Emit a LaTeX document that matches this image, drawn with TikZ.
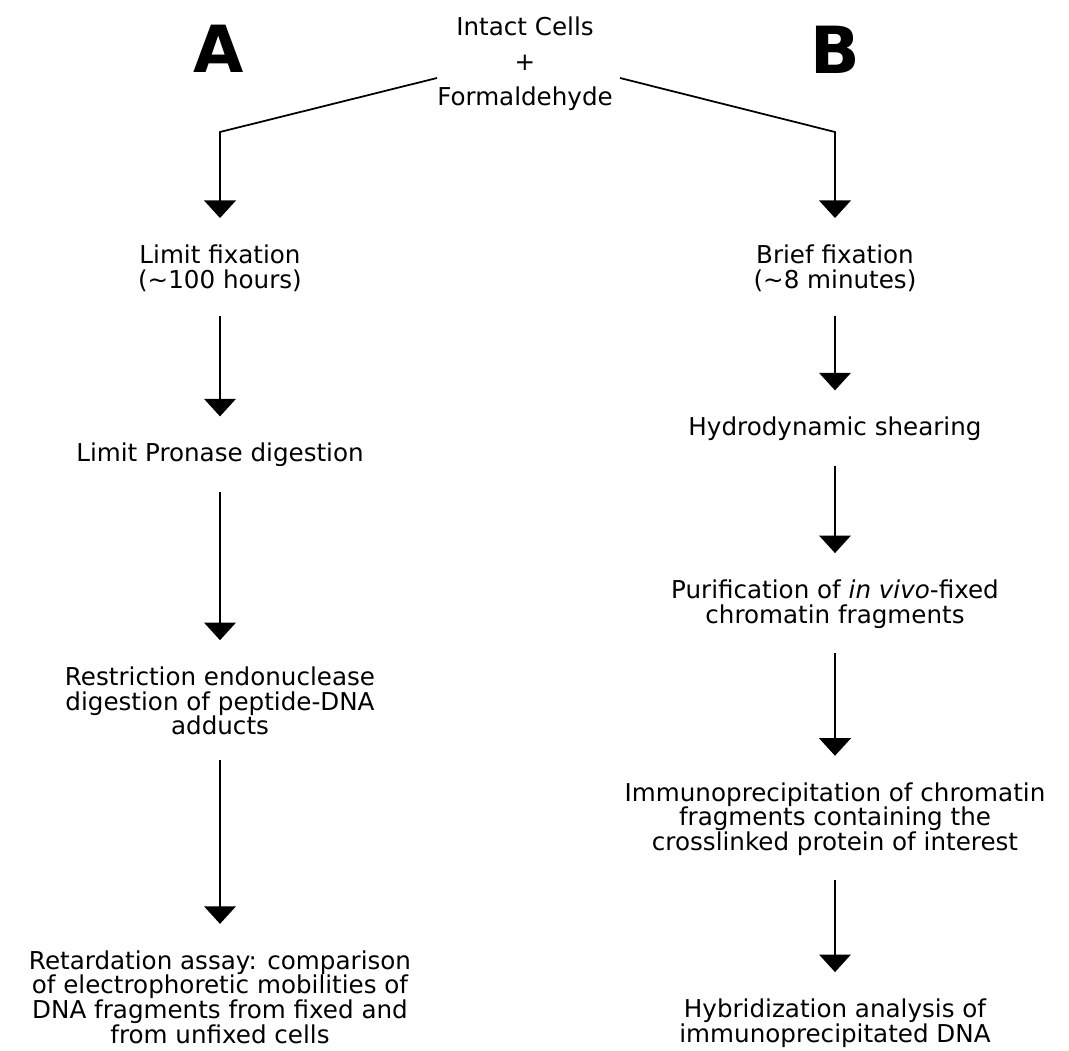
\documentclass[tikz,border=0pt]{standalone}
\usepackage{fontspec}
\setmainfont{DejaVu Sans}
\usepackage{tikz}
\usetikzlibrary{positioning, arrows.meta}
\tikzset{
  stage/.style={align=center, inner sep=0pt, font=\fontsize{14pt}{14pt}\selectfont},
  panel/.style={inner sep=0pt, font=\fontsize{37pt}{37pt}\selectfont\bfseries},
  flow/.style ={line width=1pt, -{Triangle[width=18pt, length=10pt]},
                shorten <=14pt, shorten >=15pt},
  fork/.style ={line width=1.1pt}
}

\begin{document}
\begin{tikzpicture}[x=0.02cm, y=-0.02cm]
  \useasboundingbox (0,0) rectangle (1069,1051);

  \node[stage, font=\fontsize{14pt}{20pt}\selectfont] (src) at (525,64)
       {Intact Cells\\+\\Formaldehyde};
  \node[panel] (labA) at (219,49) {A};
  \node[panel] (labB) at (835,50) {B};

  % left branch
  \node[stage] (fixA)     at (220,268) {Limit fixation\\(\textasciitilde100 hours)};
  \node[stage] (pronase)  at (220,455) {Limit Pronase digestion};
  \node[stage] (restrict) at (220,701) {Restriction endonuclease\\digestion of peptide-DNA\\adducts};
  \node[stage] (retard)   at (220,997) {Retardation assay: comparison\\of electrophoretic mobilities of\\DNA fragments from fixed and\\from unfixed cells};

  % right branch
  \node[stage] (fixB)   at (835,268)  {Brief fixation\\(\textasciitilde8 minutes)};
  \node[stage] (shear)  at (835,429)  {Hydrodynamic shearing};
  \node[stage] (purify) at (835,604)  {Purification of \textit{in vivo}-fixed\\chromatin fragments};
  \node[stage] (immuno) at (835,819)  {Immunoprecipitation of chromatin\\fragments containing the\\crosslinked protein of interest};
  \node[stage] (hybrid) at (835,1023) {Hybridization analysis of\\immunoprecipitated DNA};

  \coordinate (forkA) at (437,78);
  \coordinate (bendA) at (220,132);
  \coordinate (forkB) at (620,78);
  \coordinate (bendB) at (835,132);

  \draw[flow, shorten <=0pt] (forkA) -- (bendA) -- (fixA);
  \draw[flow, shorten <=0pt] (forkB) -- (bendB) -- (fixB);

  \draw[flow] (fixA) -- (pronase);
  \draw[flow] (pronase) -- (restrict);
  \draw[flow] (restrict) -- (retard);

  \draw[flow] (fixB) -- (shear);
  \draw[flow] (shear) -- (purify);
  \draw[flow] (purify) -- (immuno);
  \draw[flow] (immuno) -- (hybrid);
\end{tikzpicture}
\end{document}
